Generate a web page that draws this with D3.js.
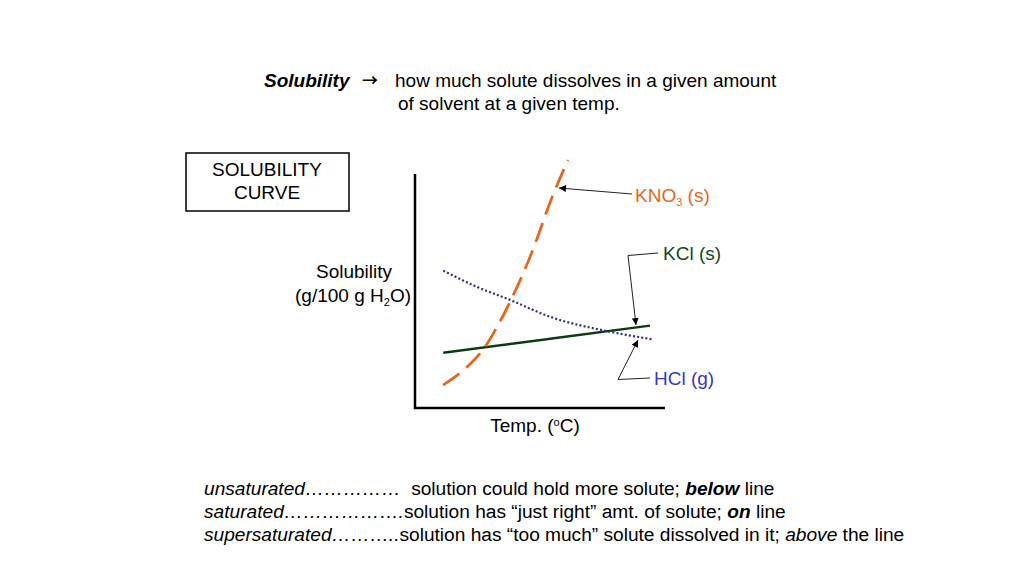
<!DOCTYPE html>
<html>
<head>
    <title>Solubility Curve</title>
    <script src="https://d3js.org/d3.v7.min.js"></script>
    <style>
        body {
            margin: 0;
            background: white;
            font-family: "Liberation Sans", Arial, sans-serif;
        }
        svg {
            display: block;
        }
        .narrow {
            font-family: "Liberation Sans Narrow", "Arial Narrow", "Liberation Sans", sans-serif;
        }
    </style>
</head>
<body>
    <div id="chart"></div>

    <script>
        // temperature (arbitrary 0-100 scale) and solubility (arbitrary 0-100 scale)
        const kno3Temp = [11.2, 20.8, 28, 32.8, 38, 46, 55.2, 61.2];
        const kno3Sol  = [9.8, 17.5, 26.1, 34.6, 45.3, 64.5, 91, 106];
        const kclTemp  = [11.3, 52.7, 94];
        const kclSol   = [23.6, 29.4, 35.2];
        const hclTemp  = [11.3, 24.7, 38, 54, 78, 94.7];
        const hclSol   = [58.7, 51.8, 46.2, 39, 32.6, 29.4];

        const width = 1024, height = 575;
        const fs = "19px";
        const x = d3.scaleLinear().domain([0, 100]).range([415, 665]);
        const y = d3.scaleLinear().domain([0, 100]).range([408, 174]);

        const svg = d3.select("#chart").append("svg")
            .attr("width", width)
            .attr("height", height);

        svg.append("defs").append("marker")
            .attr("id", "arrow")
            .attr("viewBox", "0 0 10 10")
            .attr("refX", 10).attr("refY", 5)
            .attr("markerWidth", 9).attr("markerHeight", 7)
            .attr("markerUnits", "userSpaceOnUse")
            .attr("orient", "auto")
            .append("path")
            .attr("d", "M0,0 L10,5 L0,10 z")
            .attr("fill", "black");

        // title
        svg.append("text")
            .attr("x", 264).attr("y", 87)
            .style("font-size", fs)
            .style("font-weight", "bold")
            .style("font-style", "italic")
            .text("Solubility");
        svg.append("text")
            .attr("x", 362).attr("y", 86)
            .style("font-family", "'Noto Sans CJK SC', sans-serif")
            .style("font-size", "16px")
            .style("font-weight", "bold")
            .text("\u2192");
        svg.append("text")
            .attr("x", 395).attr("y", 87)
            .style("font-size", fs)
            .text("how much solute dissolves in a given amount");
        svg.append("text")
            .attr("x", 398).attr("y", 110)
            .style("font-size", fs)
            .text("of solvent at a given temp.");

        // boxed label
        svg.append("rect")
            .attr("x", 186).attr("y", 153)
            .attr("width", 163).attr("height", 58)
            .attr("fill", "none")
            .attr("stroke", "black")
            .attr("stroke-width", 1.5);
        svg.append("text")
            .attr("x", 267).attr("y", 176)
            .attr("text-anchor", "middle")
            .style("font-size", fs)
            .text("SOLUBILITY");
        svg.append("text")
            .attr("x", 267).attr("y", 199)
            .attr("text-anchor", "middle")
            .style("font-size", fs)
            .text("CURVE");

        // axes (no ticks)
        svg.append("path")
            .attr("d", d3.line()([[x(0), y(100)], [x(0), y(0)], [x(100), y(0)]]))
            .attr("fill", "none")
            .attr("stroke", "black")
            .attr("stroke-width", 2.5);

        // axis titles
        svg.append("text")
            .attr("x", 354).attr("y", 278)
            .attr("text-anchor", "middle")
            .style("font-size", fs)
            .text("Solubility");
        var yt = svg.append("text")
            .attr("x", 353).attr("y", 302)
            .attr("text-anchor", "middle")
            .style("font-size", fs);
        yt.append("tspan").text("(g/100 g H");
        yt.append("tspan").attr("dy", 4).style("font-size", "11px").text("2");
        yt.append("tspan").attr("dy", -4).text("O)");

        var xt = svg.append("text")
            .attr("x", 535).attr("y", 432)
            .attr("text-anchor", "middle")
            .style("font-size", fs);
        xt.append("tspan").text("Temp. (");
        xt.append("tspan").attr("dy", -6).style("font-size", "11px").text("o");
        xt.append("tspan").attr("dy", 6).text("C)");

        // curves
        const line = d3.line()
            .x(d => x(d[0]))
            .y(d => y(d[1]))
            .curve(d3.curveMonotoneX);

        svg.append("path")
            .datum(d3.zip(kclTemp, kclSol))
            .attr("d", line)
            .attr("fill", "none")
            .attr("stroke", "#0b3d12")
            .attr("stroke-width", 2.5);

        svg.append("path")
            .datum(d3.zip(hclTemp, hclSol))
            .attr("d", line)
            .attr("fill", "none")
            .attr("stroke", "#2e2e8a")
            .attr("stroke-width", 2.2)
            .attr("stroke-dasharray", "2,2.2");

        svg.append("path")
            .datum(d3.zip(kno3Temp, kno3Sol))
            .attr("d", line)
            .attr("fill", "none")
            .attr("stroke", "#e8671c")
            .attr("stroke-width", 2.8)
            .attr("stroke-dasharray", "20,9");

        // callouts
        function callout(points, color) {
            svg.append("path")
                .attr("d", d3.line()(points))
                .attr("fill", "none")
                .attr("stroke", color)
                .attr("stroke-width", 1)
                .attr("marker-end", "url(#arrow)");
        }
        callout([[632, 194], [559, 188]], "#222");
        callout([[658, 253], [628, 255.5], [636, 325]], "#222");
        callout([[650, 378], [618, 379.5], [638, 340]], "#222");

        var k = svg.append("text")
            .attr("x", 635).attr("y", 202)
            .attr("fill", "#e8671c")
            .style("font-size", fs);
        k.append("tspan").text("KNO");
        k.append("tspan").attr("dy", 4).style("font-size", "11px").text("3");
        k.append("tspan").attr("dy", -4).text(" (s)");

        svg.append("text")
            .attr("x", 663).attr("y", 260)
            .attr("fill", "#114a1a")
            .style("font-size", fs)
            .text("KCl (s)");

        svg.append("text")
            .attr("x", 654).attr("y", 385)
            .attr("fill", "#3a36c0")
            .style("font-size", fs)
            .text("HCl (g)");

        // definitions at bottom
        const defs = [
            {y: 495, right: 775, parts: [
                {t: "unsaturated……………", i: true},
                {t: "  solution could hold more solute; "},
                {t: "below", i: true, b: true},
                {t: " line"}]},
            {y: 518, right: 786, parts: [
                {t: "saturated……………….", i: true},
                {t: "solution has \u201cjust right\u201d amt. of solute; "},
                {t: "on", i: true, b: true},
                {t: " line"}]},
            {y: 541, right: 905, parts: [
                {t: "supersaturated………..", i: true},
                {t: "solution has \u201ctoo much\u201d solute dissolved in it; "},
                {t: "above", i: true},
                {t: " the line"}]}
        ];

        defs.forEach(function(d) {
            var g = svg.append("g");
            var t = g.append("text")
                .attr("class", "narrow")
                .attr("x", 0).attr("y", 0)
                .attr("xml:space", "preserve")
                .style("white-space", "pre")
                .style("font-size", "19px");
            d.parts.forEach(function(p) {
                t.append("tspan")
                    .style("font-style", p.i ? "italic" : "normal")
                    .style("font-weight", p.b ? "bold" : "normal")
                    .text(p.t);
            });
            var w = t.node().getComputedTextLength();
            var s = (d.right - 204) / w;
            g.attr("transform", "translate(204," + d.y + ") scale(" + s + ",1)");
        });
    </script>
</body>
</html>
